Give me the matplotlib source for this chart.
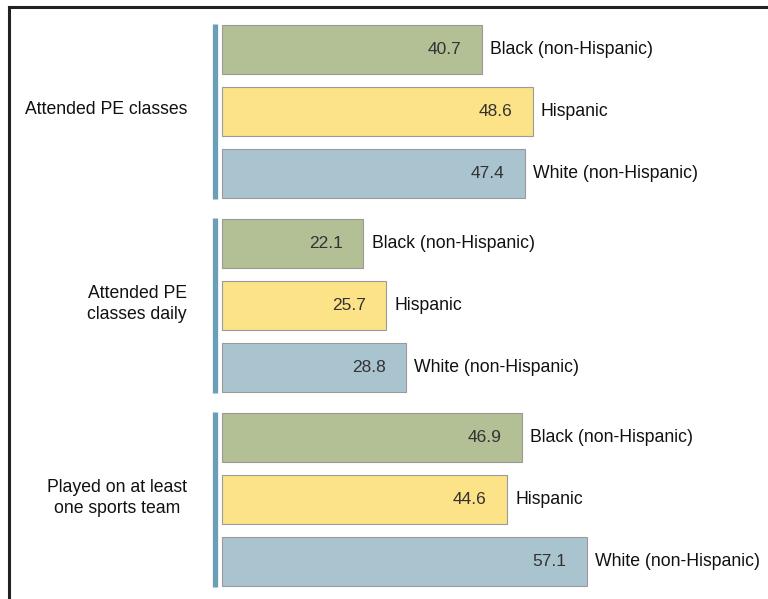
import numpy as np
import matplotlib
matplotlib.use('Agg')
import matplotlib.pyplot as plt
from matplotlib.lines import Line2D

plt.rcParams['font.family'] = ['Liberation Sans', 'DejaVu Sans']

groups = ['Attended PE classes', 'Attended PE\nclasses daily',
          'Played on at least\none sports team']
races = ['Black (non-Hispanic)', 'Hispanic', 'White (non-Hispanic)']
values = [[40.7, 48.6, 47.4],
          [22.1, 25.7, 28.8],
          [46.9, 44.6, 57.1]]

barcolors = ['#b3bf95', '#fce387', '#a9c4cf']
edgecol = '#9a9a9a'
linecol = '#6b9fb7'

W, H = 768, 599
x0 = 222.0       # pixel where bars start
pxu = 6.39       # pixels per percent

fig = plt.figure(figsize=(W / 100, H / 100), dpi=100)
ax = fig.add_axes([0, 0, 1, 1])
ax.set_xlim(-x0 / pxu, (W - x0) / pxu)
ax.set_ylim(H, 0)
ax.axis('off')

top0, pitch, gpitch, bh = 24.5, 62, 194, 49
for g, grp in enumerate(groups):
    gtop = top0 + g * gpitch
    centers = [gtop + bh / 2 + i * pitch for i in range(3)]
    ax.barh(centers, values[g], height=bh, color=barcolors,
            edgecolor=edgecol, linewidth=0.8)
    for c, v, r in zip(centers, values[g], races):
        ax.text(v - 3.2, c, '%.1f' % v, ha='right', va='center',
                fontsize=12.5, color='#333333')
        ax.text(v + 1.3, c, r, ha='left', va='center',
                fontsize=12.7, color='#111111')
    ybot = centers[-1] + bh / 2 + 1
    if g == 2:
        ybot = 587
    ax.plot([-1.1, -1.1], [gtop - 0.5, ybot], color=linecol, lw=3.8,
            solid_capstyle='butt')
    ax.text((187 - x0) / pxu, centers[1] - 1, grp, ha='right', va='center',
            multialignment='center', fontsize=12.7, color='#111111',
            linespacing=1.25)

# frame
fig.add_artist(Line2D([9 / W, 9 / W], [0, 1 - 7 / H], color='#222222',
                      lw=2.2, solid_capstyle='projecting'))
fig.add_artist(Line2D([9 / W, 1], [1 - 7 / H, 1 - 7 / H], color='#222222',
                      lw=2.2, solid_capstyle='projecting'))

fig.savefig('out.png', dpi=100)
